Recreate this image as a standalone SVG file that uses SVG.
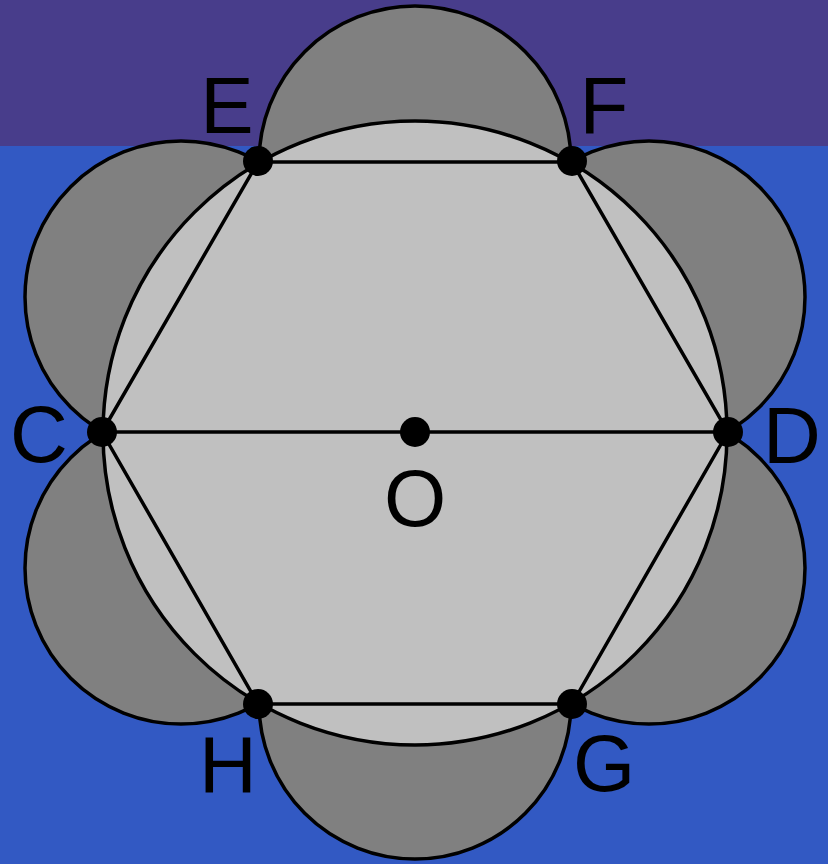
<svg xmlns="http://www.w3.org/2000/svg" width="828" height="864" viewBox="0 0 828 864">
<style>
.lobe{fill:#808080;stroke:#000;stroke-width:3.5}
.big{fill:#c0c0c0;stroke:#000;stroke-width:3.5}
.edge{stroke:#000;stroke-width:3.5;fill:none}
.dot{fill:#000}
.lbl{font-family:"Liberation Sans",Arial,sans-serif;font-size:80px;fill:#000;text-anchor:middle}
</style>
<rect x="0" y="0" width="828" height="146" fill="#483d8b"/>
<rect x="0" y="146" width="828" height="718" fill="#3259c3"/>
<g id="lobes">
<circle class="lobe" cx="415" cy="162" r="156"/>
<circle class="lobe" cx="649" cy="297" r="156"/>
<circle class="lobe" cx="649" cy="568" r="156"/>
<circle class="lobe" cx="415" cy="703" r="156"/>
<circle class="lobe" cx="181" cy="568" r="156"/>
<circle class="lobe" cx="181" cy="297" r="156"/>
</g>
<g id="circle">
<circle class="big" cx="415" cy="433" r="312"/>
</g>
<g id="connectors">
<polygon class="edge" points="102,432 258,162 572,162 728,432 572,704 258,704"/>
<line class="edge" x1="102" y1="432" x2="728" y2="432"/>
</g>
<g id="node-E"><circle class="dot" cx="258" cy="161" r="15"/><text class="lbl" x="227" y="133">E</text></g>
<g id="node-F"><circle class="dot" cx="572" cy="161" r="15"/><text class="lbl" x="604" y="133">F</text></g>
<g id="node-C"><circle class="dot" cx="102" cy="432" r="15"/><text class="lbl" x="39" y="462">C</text></g>
<g id="node-D"><circle class="dot" cx="728" cy="432" r="15"/><text class="lbl" x="792" y="463">D</text></g>
<g id="node-O"><circle class="dot" cx="415" cy="432" r="15"/><text class="lbl" x="415" y="526">O</text></g>
<g id="node-H"><circle class="dot" cx="258" cy="704" r="15"/><text class="lbl" x="228" y="792">H</text></g>
<g id="node-G"><circle class="dot" cx="572" cy="704" r="15"/><text class="lbl" x="604" y="791">G</text></g>
</svg>
